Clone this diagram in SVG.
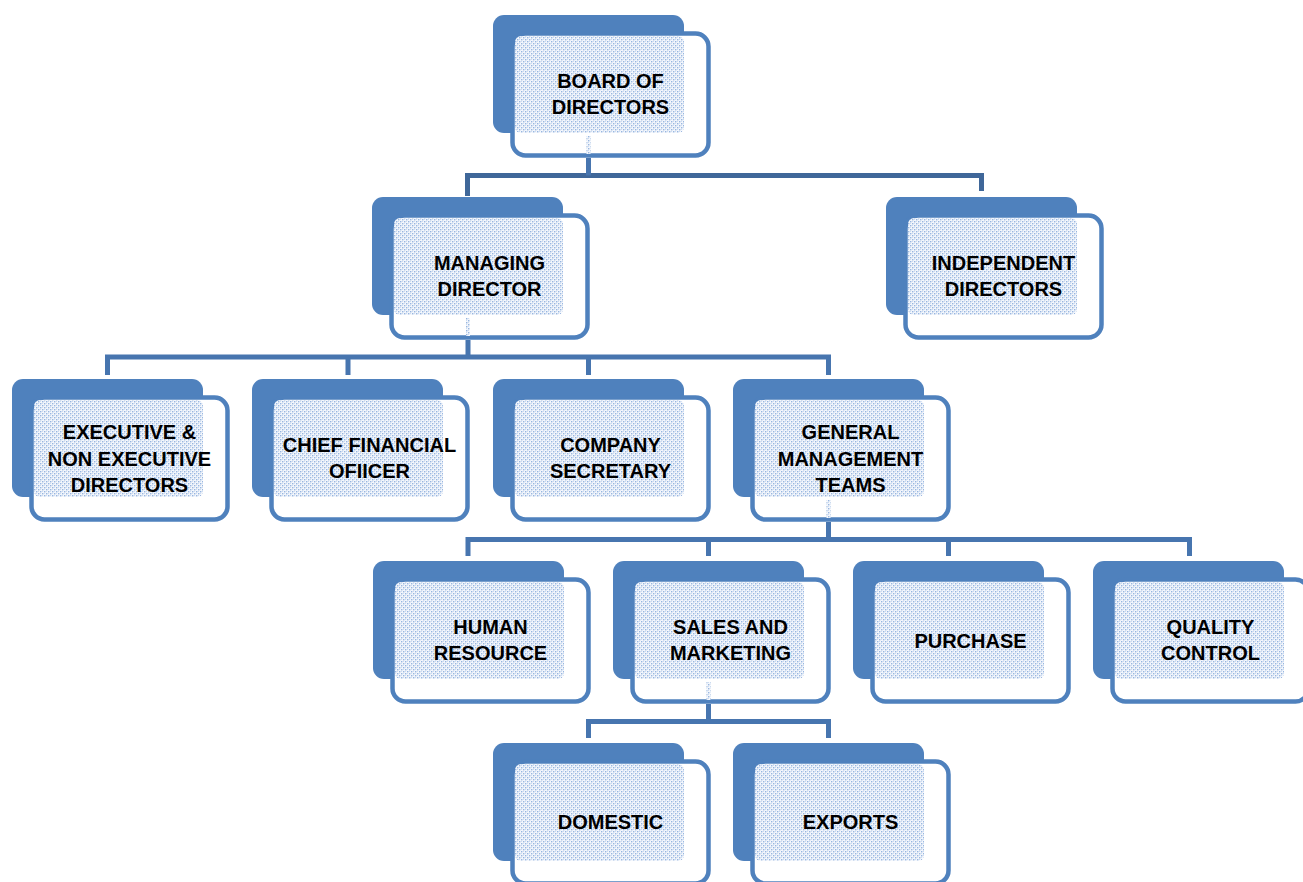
<svg xmlns="http://www.w3.org/2000/svg" width="1303" height="882" viewBox="0 0 1303 882">
<defs>
<pattern id="dots" width="4" height="4" patternUnits="userSpaceOnUse">
<rect width="4" height="4" fill="#f4f7fc"/>
<rect x="0" y="0" width="1.4" height="1.4" fill="#98b6e0"/>
<rect x="2" y="2" width="1.4" height="1.4" fill="#98b6e0"/>
<rect x="2" y="0" width="1" height="1" fill="#cddcf1"/>
<rect x="0" y="2" width="1" height="1" fill="#cddcf1"/>
</pattern>
<g id="card">
<rect class="back" x="0" y="0" width="191" height="118" rx="11"/>
<rect class="front" x="19.5" y="18.5" width="196" height="122" rx="13"/>
<rect class="dot" x="22" y="21" width="169" height="97" rx="6"/>
</g>
</defs>
<style>
.back{fill:#4f81bd;}
.front{fill:#ffffff;stroke:#4f81bd;stroke-width:4.5;}
.dot{fill:url(#dots);}
.conn{fill:none;stroke:#4775af;stroke-width:5;stroke-linejoin:miter;stroke-linecap:butt;}
.conn.top{stroke:#3f6799;}
text{font-family:"Liberation Sans",Arial,sans-serif;font-weight:bold;font-size:20px;fill:#000000;text-anchor:middle;}
</style>
<rect width="1303" height="882" fill="#ffffff"/>

<g id="board"><use href="#card" x="493" y="15"/><text x="610.5" y="88">BOARD OF</text><text x="610.5" y="114">DIRECTORS</text></g>
<g id="managing"><use href="#card" x="372" y="197"/><text x="489.5" y="270">MANAGING</text><text x="489.5" y="296">DIRECTOR</text></g>
<g id="independent"><use href="#card" x="886" y="197"/><text x="1003.5" y="270">INDEPENDENT</text><text x="1003.5" y="296">DIRECTORS</text></g>
<g id="executive"><use href="#card" x="12" y="379"/><text x="129.5" y="439">EXECUTIVE &amp;</text><text x="129.5" y="466">NON EXECUTIVE</text><text x="129.5" y="492">DIRECTORS</text></g>
<g id="cfo"><use href="#card" x="252" y="379"/><text x="369.5" y="452">CHIEF FINANCIAL</text><text x="369.5" y="478">OFIICER</text></g>
<g id="secretary"><use href="#card" x="493" y="379"/><text x="610.5" y="452">COMPANY</text><text x="610.5" y="478">SECRETARY</text></g>
<g id="general"><use href="#card" x="733" y="379"/><text x="850.5" y="439">GENERAL</text><text x="850.5" y="466">MANAGEMENT</text><text x="850.5" y="492">TEAMS</text></g>
<g id="hr"><use href="#card" x="373" y="561"/><text x="490.5" y="634">HUMAN</text><text x="490.5" y="660">RESOURCE</text></g>
<g id="sales"><use href="#card" x="613" y="561"/><text x="730.5" y="634">SALES AND</text><text x="730.5" y="660">MARKETING</text></g>
<g id="purchase"><use href="#card" x="853" y="561"/><text x="970.5" y="648">PURCHASE</text></g>
<g id="quality"><use href="#card" x="1093" y="561"/><text x="1210.5" y="634">QUALITY</text><text x="1210.5" y="660">CONTROL</text></g>
<g id="domestic"><use href="#card" x="493" y="743"/><text x="610.5" y="829">DOMESTIC</text></g>
<g id="exports"><use href="#card" x="733" y="743"/><text x="850.5" y="829">EXPORTS</text></g>

<g id="connectors">
<rect class="dot" x="586.5" y="136" width="4" height="18"/>
<rect class="dot" x="466" y="318" width="4" height="18"/>
<rect class="dot" x="826.5" y="500" width="4" height="18"/>
<rect class="dot" x="706.5" y="682" width="4" height="18"/>
<path class="conn top" d="M467.5 196 V175.5 H981.5 V191"/>
<path class="conn" d="M588.5 158 V175.5"/>
<path class="conn" d="M468 340 V357 M107.5 375 V357 H828.5 V375 M348 357 V375 M588.5 357 V375"/>
<path class="conn" d="M828.5 522 V539.5 M468 556 V539.5 H1189.5 V556 M708.5 539.5 V556 M948.5 539.5 V556"/>
<path class="conn" d="M708.5 704 V721.5 M588.5 738 V721.5 H828.5 V738"/>
</g>
</svg>
